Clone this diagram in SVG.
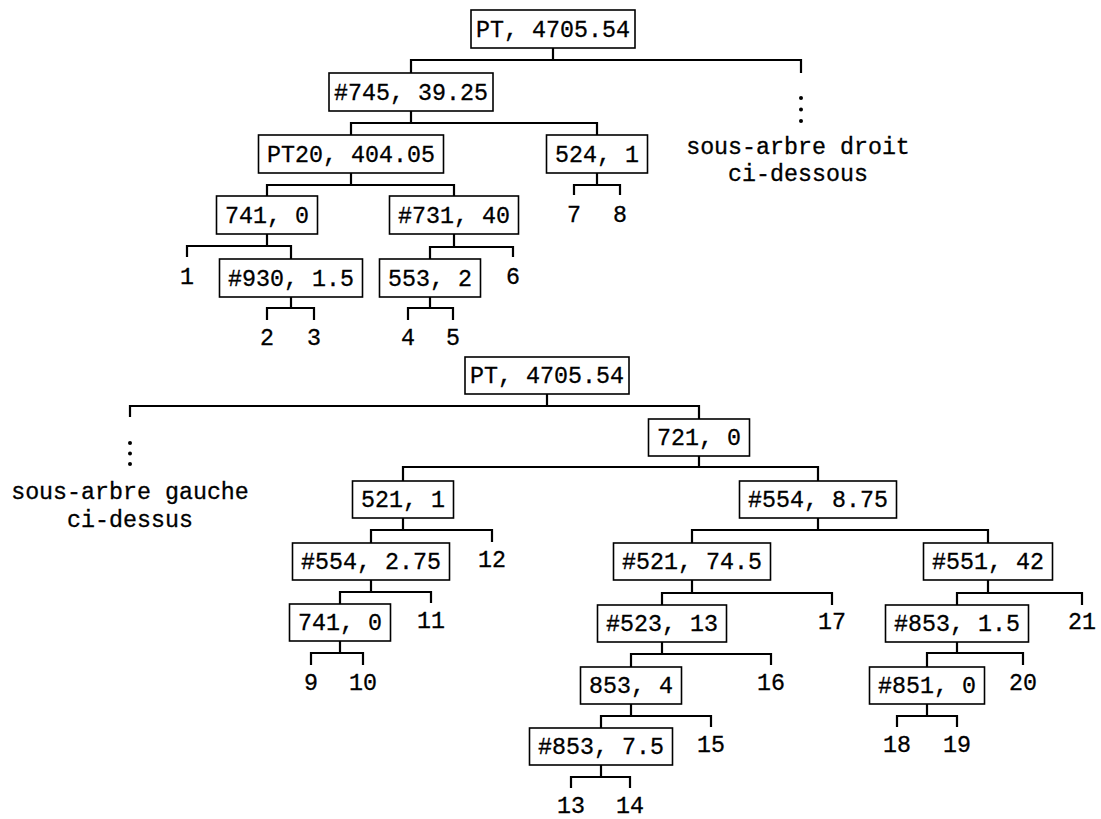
<svg xmlns="http://www.w3.org/2000/svg" width="1101" height="819" viewBox="0 0 1101 819">
<style>
.t{font-family:"Liberation Mono","DejaVu Sans Mono",monospace;font-size:23.3px;text-anchor:middle;fill:#000;stroke:#000;stroke-width:0.3px}
.b{fill:#fff;stroke:#000;stroke-width:1.6}
.c{fill:none;stroke:#000;stroke-width:2.2;stroke-linejoin:miter;stroke-linecap:butt}
.d{fill:#000}
</style>
<rect width="1101" height="819" fill="#fff"/>
<g id="connectors">
<path class="c" d="M553 48V60M411 73V60H801V73"/>
<path class="c" d="M411 111V123M351 135V123H597V135"/>
<path class="c" d="M351 173V185M267 196V185H454V196"/>
<path class="c" d="M597 173V185M574 195V185H620V195"/>
<path class="c" d="M267 234V246M187 257V246H291V259"/>
<path class="c" d="M454 234V247M430 259V247H513V257"/>
<path class="c" d="M291 297V308M267 320V308H314V320"/>
<path class="c" d="M430 297V308M408 320V308H453V320"/>
<path class="c" d="M547 394V406M130 417V406H699V419"/>
<path class="c" d="M699 456V467M403 481V467H818V481"/>
<path class="c" d="M403 518V530M371 543V530H492V542"/>
<path class="c" d="M371 580V592M340 604V592H431V603"/>
<path class="c" d="M340 641V653M311 665V653H363V665"/>
<path class="c" d="M818 518V530M692 543V530H988V543"/>
<path class="c" d="M692 580V593M662 605V593H832V605"/>
<path class="c" d="M662 642V654M631 667V654H771V665"/>
<path class="c" d="M631 704V716M601 728V716H711V727"/>
<path class="c" d="M601 765V777M571 788V777H630V788"/>
<path class="c" d="M988 580V593M957 605V593H1082V605"/>
<path class="c" d="M957 642V653M927 667V653H1023V665"/>
<path class="c" d="M927 704V716M897 727V716H957V727"/>
</g>
<g id="a_root"><rect class="b" x="471" y="10" width="164" height="38"/><text class="t" x="553" y="37">PT, 4705.54</text></g>
<g id="a_745"><rect class="b" x="329" y="73" width="164" height="38"/><text class="t" x="411" y="100">#745, 39.25</text></g>
<g id="a_pt20"><rect class="b" x="258.5" y="135" width="185" height="38"/><text class="t" x="351" y="162">PT20, 404.05</text></g>
<g id="a_524"><rect class="b" x="546.5" y="135" width="101" height="38"/><text class="t" x="597" y="162">524, 1</text></g>
<g id="a_741"><rect class="b" x="216.5" y="196" width="101" height="38"/><text class="t" x="267" y="223">741, 0</text></g>
<g id="a_731"><rect class="b" x="389.5" y="196" width="129" height="38"/><text class="t" x="454" y="223">#731, 40</text></g>
<g id="a_930"><rect class="b" x="219.5" y="259" width="143" height="38"/><text class="t" x="291" y="286">#930, 1.5</text></g>
<g id="a_553"><rect class="b" x="379.5" y="259" width="101" height="38"/><text class="t" x="430" y="286">553, 2</text></g>
<g id="leaf1"><text class="t" x="187" y="284">1</text></g>
<g id="leaf2"><text class="t" x="267" y="345">2</text></g>
<g id="leaf3"><text class="t" x="314" y="345">3</text></g>
<g id="leaf4"><text class="t" x="408" y="345">4</text></g>
<g id="leaf5"><text class="t" x="453" y="345">5</text></g>
<g id="leaf6"><text class="t" x="513" y="284">6</text></g>
<g id="leaf7"><text class="t" x="574" y="222">7</text></g>
<g id="leaf8"><text class="t" x="620" y="222">8</text></g>
<g id="a_right">
<circle class="d" cx="801" cy="98" r="2"/><circle class="d" cx="801" cy="109.5" r="2"/><circle class="d" cx="801" cy="121" r="2"/>
<text class="t" x="798" y="154">sous-arbre droit</text>
<text class="t" x="798" y="181">ci-dessous</text>
</g>
<g id="b_root"><rect class="b" x="465" y="357" width="164" height="37"/><text class="t" x="547" y="383">PT, 4705.54</text></g>
<g id="b_left">
<circle class="d" cx="130" cy="443" r="2"/><circle class="d" cx="130" cy="453.5" r="2"/><circle class="d" cx="130" cy="464" r="2"/>
<text class="t" x="130" y="499">sous-arbre gauche</text>
<text class="t" x="130" y="527">ci-dessus</text>
</g>
<g id="b_721"><rect class="b" x="648.5" y="419" width="101" height="37"/><text class="t" x="699" y="445">721, 0</text></g>
<g id="b_521"><rect class="b" x="352.5" y="481" width="101" height="37"/><text class="t" x="403" y="507">521, 1</text></g>
<g id="b_554_875"><rect class="b" x="739.5" y="481" width="157" height="37"/><text class="t" x="818" y="507">#554, 8.75</text></g>
<g id="b_554_275"><rect class="b" x="292.5" y="543" width="157" height="37"/><text class="t" x="371" y="569">#554, 2.75</text></g>
<g id="b_741"><rect class="b" x="289.5" y="604" width="101" height="37"/><text class="t" x="340" y="630">741, 0</text></g>
<g id="b_521_745"><rect class="b" x="613.5" y="543" width="157" height="37"/><text class="t" x="692" y="569">#521, 74.5</text></g>
<g id="b_551"><rect class="b" x="923.5" y="543" width="129" height="37"/><text class="t" x="988" y="569">#551, 42</text></g>
<g id="b_523"><rect class="b" x="597.5" y="605" width="129" height="37"/><text class="t" x="662" y="631">#523, 13</text></g>
<g id="b_853_4"><rect class="b" x="580.5" y="667" width="101" height="37"/><text class="t" x="631" y="693">853, 4</text></g>
<g id="b_853_75"><rect class="b" x="529.5" y="728" width="143" height="37"/><text class="t" x="601" y="754">#853, 7.5</text></g>
<g id="b_853_15"><rect class="b" x="885.5" y="605" width="143" height="37"/><text class="t" x="957" y="631">#853, 1.5</text></g>
<g id="b_851"><rect class="b" x="869.5" y="667" width="115" height="37"/><text class="t" x="927" y="693">#851, 0</text></g>
<g id="leaf9"><text class="t" x="311" y="690">9</text></g>
<g id="leaf10"><text class="t" x="363" y="690">10</text></g>
<g id="leaf11"><text class="t" x="431" y="628">11</text></g>
<g id="leaf12"><text class="t" x="492" y="567">12</text></g>
<g id="leaf13"><text class="t" x="571" y="813">13</text></g>
<g id="leaf14"><text class="t" x="630" y="813">14</text></g>
<g id="leaf15"><text class="t" x="711" y="752">15</text></g>
<g id="leaf16"><text class="t" x="771" y="690">16</text></g>
<g id="leaf17"><text class="t" x="832" y="629">17</text></g>
<g id="leaf18"><text class="t" x="897" y="752">18</text></g>
<g id="leaf19"><text class="t" x="957" y="752">19</text></g>
<g id="leaf20"><text class="t" x="1023" y="690">20</text></g>
<g id="leaf21"><text class="t" x="1082" y="629">21</text></g>
</svg>
